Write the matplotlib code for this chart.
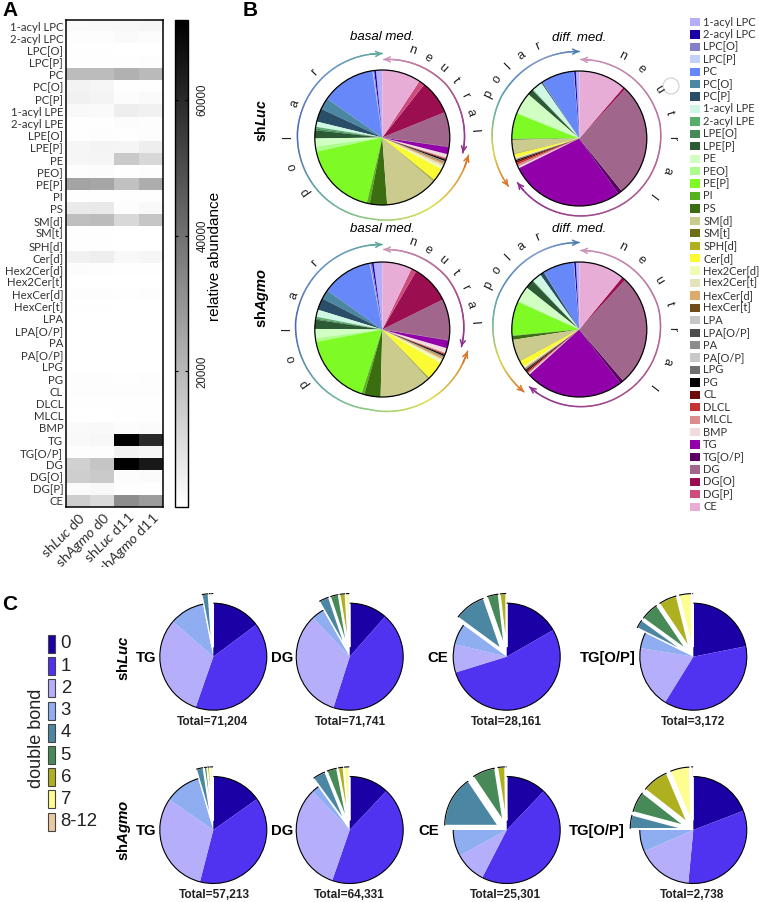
import matplotlib
matplotlib.use('Agg')
import matplotlib.pyplot as plt
import numpy as np
from matplotlib.collections import LineCollection
from matplotlib.colors import LinearSegmentedColormap
from matplotlib.patches import Arc, Circle, Rectangle

W, H = 759, 902
UI = 'Lato'
SANS = 'Liberation Sans'
plt.rcParams['font.family'] = SANS
plt.rcParams['mathtext.fontset'] = 'custom'
plt.rcParams['mathtext.it'] = UI + ':italic'
plt.rcParams['mathtext.rm'] = SANS
plt.rcParams['mathtext.bf'] = SANS + ':bold'
plt.rcParams['mathtext.bfit'] = SANS + ':italic:bold'

# lipid classes, same order in heatmap and legend
lipids = ['1-acyl LPC', '2-acyl LPC', 'LPC[O]', 'LPC[P]', 'PC', 'PC[O]', 'PC[P]', '1-acyl LPE',
          '2-acyl LPE', 'LPE[O]', 'LPE[P]', 'PE', 'PEO]', 'PE[P]', 'PI', 'PS', 'SM[d]', 'SM[t]',
          'SPH[d]', 'Cer[d]', 'Hex2Cer[d]', 'Hex2Cer[t]', 'HexCer[d]', 'HexCer[t]', 'LPA',
          'LPA[O/P]', 'PA', 'PA[O/P]', 'LPG', 'PG', 'CL', 'DLCL', 'MLCL', 'BMP', 'TG', 'TG[O/P]',
          'DG', 'DG[O]', 'DG[P]', 'CE']
lipid_colors = ['#B4AEFB', '#1B00A6', '#8480C8', '#C3D2F8', '#6688F8', '#4B86A3', '#2A4D68', '#CFF7E4',
                '#55AE6C', '#478A58', '#2B5A35', '#D0FEC3', '#ACFD8E', '#7EFB25', '#57B31B', '#3A6E10',
                '#CBCB8D', '#6E6E14', '#AFB01F', '#FBFB33', '#F0FBB5', '#E6E3BC', '#DBAA6C', '#6F4D1A',
                '#C8C8C8', '#4D4D4D', '#8C8C8C', '#C8C8C8', '#6E6E6E', '#000000', '#6E0A0A', '#C83232',
                '#DC8C8C', '#F0DCDC', '#9100A8', '#5A0064', '#A0668C', '#9B0E50', '#CC4C7C', '#E8ADD6']

# panel A, relative abundance
samples = [r'sh$\mathit{Luc}$ d0', r'sh$\mathit{Agmo}$ d0', r'sh$\mathit{Luc}$ d11', r'sh$\mathit{Agmo}$ d11']
shLuc_d0 = [1800, 700, 500, 500, 19000, 3500, 4200, 1800, 400, 400, 2600, 2700, 800, 26000, 500, 6000,
            18000, 300, 300, 4000, 900, 200, 800, 300, 150, 200, 150, 200, 200, 700, 700, 300, 200,
            1500, 1800, 700, 13000, 14000, 1200, 14000]
shAgmo_d0 = [2200, 800, 500, 500, 19000, 2800, 3200, 1600, 500, 800, 3200, 3000, 1000, 25000, 500, 6200,
             19000, 300, 300, 4800, 700, 200, 800, 300, 150, 200, 150, 200, 200, 700, 800, 300, 200,
             1800, 2500, 700, 16500, 15000, 1800, 10500]
shLuc_d11 = [2000, 1500, 200, 300, 22000, 500, 900, 5000, 1000, 300, 3000, 15000, 500, 17500, 300, 700,
             11000, 200, 200, 2000, 400, 200, 500, 200, 100, 150, 100, 150, 150, 500, 600, 400, 500,
             1000, 71000, 3800, 71800, 1000, 300, 32000]
shAgmo_d11 = [2600, 900, 200, 600, 19500, 500, 1500, 4000, 800, 700, 5000, 11000, 600, 23000, 400, 1800,
              16000, 200, 200, 2600, 400, 200, 600, 200, 100, 150, 100, 150, 150, 800, 700, 500, 400,
              1200, 60000, 2800, 65000, 1400, 500, 28000]
cbar_ticks = [20000, 40000, 60000]

# panel B, slice widths in degrees, legend order
basal_shLuc = [5.5, 1.5, 1, .5, 46.5, 10, 11.5, 4.5, 1.5, 1.5, 7, 7, 4.3, 64.7, 2.5, 15, 45.5, .5, 1, 11,
               2, 2, 2, .7, .2, .1, .2, .1, .1, 1.3, .7, .5, .7, 3, 6, .5, 30, 29.7, 5, 33.4]
diff_shLuc = [3, 1.5, .2, .2, 28, .5, 1, 9, .4, .3, 5, 18.4, .6, 22, .3, .7, 12, .3, .3, 3,
              .4, .3, .5, .3, .1, .1, .1, .1, .1, 1, 1.5, 1.5, 2, 1.4, 98.9, 3.7, 98.2, 1.9, .5, 40.4]
basal_shAgmo = [7.5, 1.5, 1.5, .5, 44, 8, 10.3, 6.2, 1.5, 1, 8, 8, 3.2, 61.8, 2.4, 14.1, 44.7, .5, .9, 15.7,
                2.7, 1, 2, .5, .1, .1, .1, .1, .1, 1.2, .7, .5, .8, 4, 6.7, .4, 35.6, 33.7, 4.5, 25.8]
diff_shAgmo = [3, 1.5, .2, .3, 26.5, .5, 3.5, 8, .3, .3, 7.5, 13.5, .8, 29.5, .3, 3.4, 18.8, .3, .2, 5.5,
               .8, .6, .8, .5, .1, .1, .1, .1, .1, 1, 1.3, 1, 1, 1, 85.3, 3.3, 96.9, 3.2, .3, 39.3]

# panel C, double bond shares in degrees, clockwise from 12 o'clock
bonds = ['0', '1', '2', '3', '4', '5', '6', '7', '8-12']
bond_colors = ['#1B00A6', '#4F33F0', '#B4AEFB', '#8FAEF2', '#4B86A3', '#478A58', '#AFB01F', '#FDFD90', '#EBC9A0']
tg_shLuc = [53.3, 145.9, 111.8, 38, 7, 1.5, 1.2, 1.2, .1]
dg_shLuc = [41.4, 156.1, 119, 13.5, 11, 9, 6, 3.5, .1]
ce_shLuc = [60.2, 192.7, 30.7, 22.8, 34.6, 12.5, 6.5, .1, 0]
tgop_shLuc = [78.8, 133, 67.5, 17.1, 9.6, 20, 20, 13, 1]
tg_shAgmo = [54.7, 139.8, 110.2, 39.1, 7.7, 3, 2.5, 3, .1]
dg_shAgmo = [43.2, 155.9, 116.9, 8, 14, 11, 5.5, 5.4, .1]
ce_shAgmo = [43.7, 163.5, 34.1, 28.7, 56, 25, 8, 1, 0]
tgop_shAgmo = [69, 116.4, 61, 23.6, 15, 23, 29, 21, 2]
totals_shLuc = ['Total=71,204', 'Total=71,741', 'Total=28,161', 'Total=3,172']
totals_shAgmo = ['Total=57,213', 'Total=64,331', 'Total=25,301', 'Total=2,738']
c_names = ['TG', 'DG', 'CE', 'TG[O/P]']

fig = plt.figure(figsize=(W / 100, H / 100), dpi=100)


def px_axes(x0, y0, x1, y1, **kw):
    # axes box from pixel coordinates, y counted from the top
    return fig.add_axes([x0 / W, 1 - y1 / H, (x1 - x0) / W, (y1 - y0) / H], **kw)


ov = px_axes(0, 0, W, H)
ov.set_xlim(0, W)
ov.set_ylim(H, 0)
ov.axis('off')
ov.set_zorder(5)

# ---- A: heatmap
ax = px_axes(66, 20, 163, 507)
matrix = np.array([shLuc_d0, shAgmo_d0, shLuc_d11, shAgmo_d11]).T
im = ax.imshow(matrix, aspect='auto', cmap='gray_r', vmin=0, vmax=71800, interpolation='nearest')
ax.set_yticks(range(len(lipids)))
ax.set_yticklabels(lipids, family=UI, fontsize=8.2, color='#333333')
ax.set_xticks(range(len(samples)))
ax.set_xticklabels(samples, family=UI, fontsize=10.4, color='#333333', rotation=45, ha='right',
                   rotation_mode='anchor')
ax.tick_params(length=0, pad=2)
for s in ax.spines.values():
    s.set_linewidth(1.1)
# last sample label runs off the panel in the original
for lab in ax.get_xticklabels():
    lab.set_clip_on(True)
    lab.set_clip_path(Rectangle((0, 0), W, 567, transform=ov.transData))

cax = px_axes(175, 20, 188, 507)
cbar = fig.colorbar(im, cax=cax)
cbar.set_ticks(cbar_ticks)
cbar.ax.tick_params(direction='in', length=2, width=.8, left=True, right=True, labelsize=8.3, pad=6)
for lab in cbar.ax.get_yticklabels():
    lab.set_rotation(90)
    lab.set_va('center')
    lab.set_color('#222222')
cbar.outline.set_linewidth(1)
ov.text(215, 256, 'relative abundance', rotation=90, ha='center', va='center', fontsize=11)


# ---- B: class pies with the ring arrows
def class_pie(cx, cy, r, shares):
    pad = 1.1
    a = px_axes(cx - r * pad, cy - r * pad, cx + r * pad, cy + r * pad)
    wedges, _ = a.pie(shares, colors=lipid_colors, startangle=90, counterclock=True,
                      wedgeprops=dict(linewidth=0))
    a.set_xlim(-pad, pad)
    a.set_ylim(-pad, pad)
    a.add_patch(Circle((0, 0), 1, fill=False, ec='black', lw=.9))


def ring(cx, cy, ang0, ang1, radii, stops):
    # ang measured clockwise from 12 o'clock
    t = np.linspace(0, 1, 160)
    ang = np.radians(ang0 + (ang1 - ang0) * t)
    rad = np.interp(t, np.linspace(0, 1, len(radii)), radii)
    x = cx + rad * np.sin(ang)
    y = cy - rad * np.cos(ang)
    pts = np.column_stack([x, y])
    cmap = LinearSegmentedColormap.from_list('ring', stops)
    lc = LineCollection(np.stack([pts[:-1], pts[1:]], axis=1), colors=cmap(t[:-1]), linewidths=1.1,
                        capstyle='round')
    ov.add_collection(lc)
    for a, b, col in [(pts[5], pts[0], stops[0]), (pts[-6], pts[-1], stops[-1])]:
        ov.annotate('', xy=b, xytext=a, arrowprops=dict(arrowstyle='->', color=col, lw=1.1,
                                                       mutation_scale=9, shrinkA=0, shrinkB=0))


def ring_word(cx, cy, word, angles, r):
    for ch, a in zip(word, angles):
        x = cx + r * np.sin(np.radians(a))
        y = cy - r * np.cos(np.radians(a))
        ov.text(x, y, ch, rotation=-a, rotation_mode='anchor', ha='center', va='center',
                fontsize=9, color='#222222')


pie_r = 67.5
pol_left = ['#5FA8A0', '#6A93C8', '#4F68B0', '#5FA5A5', '#8FCB80', '#E0E050', '#D9762A']
pol_right = ['#4C7FAF', '#8C9DD0', '#5A8FC0', '#6FB8A0', '#D8D850', '#D9762A']
neu = ['#CB93B8', '#B0608E', '#8E2F8F']
ang_neu_left = [19, 30, 41, 52, 63, 74, 85.5]
ang_pol_left = [235, 252, 270, 291, 314]
ang_neu_right = [27.6, 42, 58, 74, 90, 110, 127.5]
ang_pol_right = [296, 306, 315, 325, 336]

for cx, cy, shares, head in [(382.3, 137.5, basal_shLuc, 'basal med.'), (382.3, 329.5, basal_shAgmo, 'basal med.'),
                             (579.3, 138.5, diff_shLuc, 'diff. med.'), (579.3, 329.5, diff_shAgmo, 'diff. med.')]:
    class_pie(cx, cy, pie_r, shares)
    ov.text(cx, cy - 100.5, head, ha='center', va='center', fontsize=9.5, style='italic')

ring(382.3, 137.5, 360, 101.6, [84, 85, 82, 88], pol_left)
ring(382.3, 137.5, 1, 100.8, [78, 83, 82], neu)
ring(382.3, 329.5, 360, 104.3, [85, 87, 81, 88], pol_left)
ring(382.3, 329.5, 1, 102.3, [80, 83, 81], neu)
ring(579.3, 138.5, 360, 236, [87, 88.5, 85.5], pol_right)
ring(579.3, 138.5, 1, 234.5, [79, 82, 78, 76], neu)
ring(579.3, 329.5, 360, 221.6, [87, 87.7, 83.4], pol_right)
ring(579.3, 329.5, 1, 221, [79, 82, 78, 76], neu)

for cy, rn, rp in [(137.5, 92, 94), (329.5, 92, 95)]:
    ring_word(382.3, cy, 'neutral', ang_neu_left, rn)
    ring_word(382.3, cy, 'polar', ang_pol_left, rp)
for cy in [138.5, 329.5]:
    ring_word(579.3, cy, 'neutral', ang_neu_right, 93)
    ring_word(579.3, cy, 'polar', ang_pol_right, 101)

ov.text(262, 121, r'sh$\mathbfit{Luc}$', rotation=90, ha='center', va='center', fontsize=10, fontweight='bold')
ov.text(262, 298, r'sh$\mathbfit{Agmo}$', rotation=90, ha='center', va='center', fontsize=10.5, fontweight='bold')
# stray empty circle that sits on the original figure
ov.add_patch(Circle((671, 86), 8, fill=False, ec='#CFCFCF', lw=.8))

# legend of panel B
leg_y = np.linspace(22, 506.7, len(lipids))
for name, col, y in zip(lipids, lipid_colors, leg_y):
    ov.add_patch(Rectangle((689.5, y - 4.2), 10.5, 8.4, fc=col, ec='none'))
    ov.text(703.3, y, name, ha='left', va='center', family=UI, fontsize=8, color='#333333')


# ---- C: double bond pies
def bond_pie(cx, cy, shares):
    r = 53.5
    pad = 1.25
    a = px_axes(cx - r * pad, cy - r * pad, cx + r * pad, cy + r * pad)
    explode = [0, 0, 0, 0, .18, .18, .18, .18, .18]
    wedges, _ = a.pie(shares, colors=bond_colors, explode=explode, startangle=90, counterclock=False,
                      wedgeprops=dict(linewidth=0))
    a.set_xlim(-pad, pad)
    a.set_ylim(-pad, pad)
    for w, e in zip(wedges, explode):
        if e:
            w.set_edgecolor('white')
            w.set_linewidth(1)
        a.add_patch(Arc(w.center, 2 * w.r, 2 * w.r, theta1=w.theta1, theta2=w.theta2, color='black', lw=.8))


pie_x = [213.3, 349.7, 506.7, 693.3]
row_y = [656.7, 830]
name_right = [[156, 293, 448, 635.7], [156.7, 293, 439, 625]]
total_x = [[212.7, 350, 506, 692.7], [214, 349, 505.3, 691.7]]
total_y = [721.7, 894.7]
rows = [[tg_shLuc, dg_shLuc, ce_shLuc, tgop_shLuc], [tg_shAgmo, dg_shAgmo, ce_shAgmo, tgop_shAgmo]]
totals = [totals_shLuc, totals_shAgmo]
for i in range(2):
    for j in range(4):
        bond_pie(pie_x[j], row_y[i], rows[i][j])
        ov.text(name_right[i][j], row_y[i] + 1, c_names[j], ha='right', va='center', fontsize=10.7, fontweight='bold')
        ov.text(total_x[i][j], total_y[i], totals[i][j], ha='center', va='center', fontsize=8.6, fontweight='bold',
                color='#222222')

ov.text(124, 658, r'sh$\mathbfit{Luc}$', rotation=90, ha='center', va='center', fontsize=10.8, fontweight='bold')
ov.text(124, 830, r'sh$\mathbfit{Agmo}$', rotation=90, ha='center', va='center', fontsize=10.8, fontweight='bold')

# bond legend
for k, (name, col) in enumerate(zip(bonds, bond_colors)):
    y = 644 + 22.2 * k
    ov.add_patch(Rectangle((47.7, y - 9), 7.6, 18, fc=col, ec='#444444', lw=.8))
    ov.text(60.7, y, name, ha='left', va='center', fontsize=13.4, color='#222222')
ov.text(36.7, 738, 'double bond', rotation=90, ha='center', va='center', fontsize=13, color='#222222')

# panel letters
for letter, x, y in [('A', 2, 11), ('B', 243, 10), ('C', 2, 604)]:
    ov.text(x, y, letter, ha='left', va='center', fontsize=15, fontweight='bold')

fig.savefig('out.png', dpi=100)
